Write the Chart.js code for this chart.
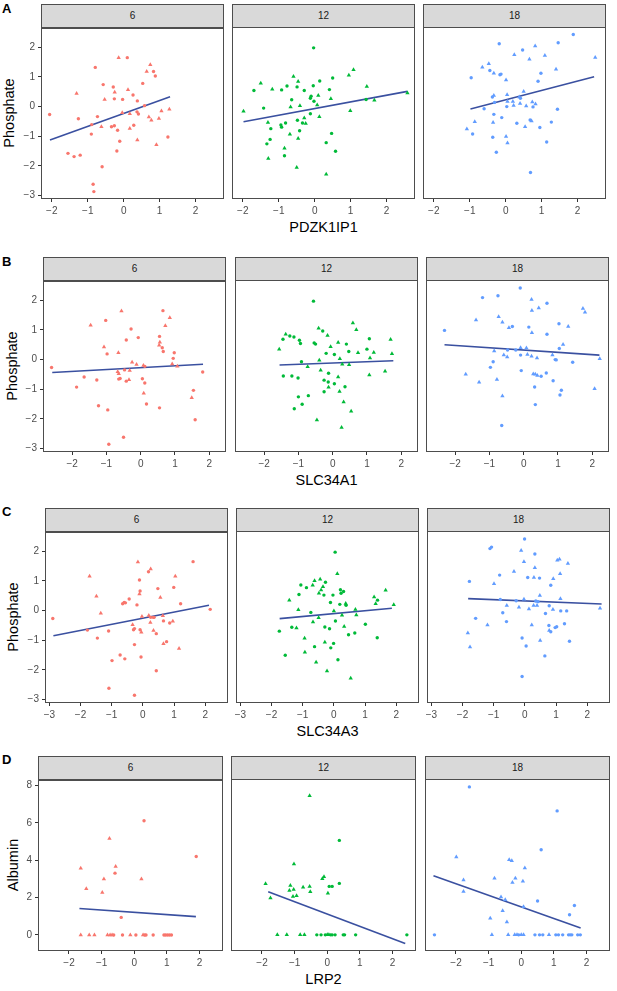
<!DOCTYPE html>
<html lang="en">
<head>
<meta charset="UTF-8">
<title>Phosphate and albumin against gene expression</title>
<script src="https://cdn.jsdelivr.net/npm/chart.js"></script>
<style>
  body { margin: 0; background: #fff; font-family: "Liberation Sans", Arial, sans-serif; }
  #page { position: relative; width: 617px; height: 991px; overflow: hidden; }
  .strip { position: absolute; box-sizing: border-box; background: #d9d9d9; border: 1px solid #4d4d4d;
           font-size: 10px; color: #1a1a1a; text-align: center; }
  .tag { position: absolute; font-weight: bold; font-size: 13px; line-height: 1; }
  .xtitle { position: absolute; font-size: 14.5px; line-height: 1; transform: translate(-50%, -50%); white-space: nowrap; }
  .ytitle { position: absolute; font-size: 14.5px; line-height: 1; transform: translate(-50%, -50%) rotate(-90deg); white-space: nowrap; }
  canvas { position: absolute; }
</style>
</head>
<body>
<div id="page"></div>
<script>
// facets and labels
const TIMEPOINTS = ['6', '12', '18'];
const GENES = ['PDZK1IP1', 'SLC34A1', 'SLC34A3', 'LRP2'];
const Y_TITLES = ['Phosphate', 'Phosphate', 'Phosphate', 'Albumin'];
const TAGS = ['A', 'B', 'C', 'D'];
const COLOURS = ['#F8766D', '#00BA38', '#619CFF'];
const FIT_COLOUR = '#3a50a0';

// tick labels and axis limits
const Y_TICKS_PHOS = [-3, -2, -1, 0, 1, 2];
const Y_TICKS_ALB = [0, 2, 4, 6, 8];
const Y_RANGE_PHOS = [-3.12, 2.65];
const Y_RANGE_ALB = [-0.86, 8.3];
const X_TICKS_A = [-2, -1, 0, 1, 2];
const X_TICKS_B = [-2, -1, 0, 1, 2];
const X_TICKS_C = [-3, -2, -1, 0, 1, 2];
const X_TICKS_D = [-2, -1, 0, 1, 2];
const X_RANGE_A = [-2.30, 2.79];
const X_RANGE_B = [-2.85, 2.49];
const X_RANGE_C = [-3.14, 2.73];
const X_RANGE_D = [-2.95, 2.72];

// A: PDZK1IP1 vs phosphate
const A6_circles = [[-2.06,-0.27],[-1.26,-0.41],[-1.55,-1.58],[-1.38,-1.69],[-1.21,-1.64],[-0.79,1.32],[-0.73,-0.34],[-0.89,-0.61],[-0.90,-0.93],[-0.85,-2.62],[-0.83,-2.87],[-0.60,-2.03],[-0.57,0.74],[-0.29,0.66],[-0.26,0.26],[-0.34,-0.68],[-0.26,-0.65],[-0.17,-0.80],[0.10,1.65],[-0.03,0.24],[-0.11,-1.17],[-0.19,-1.50],[0.26,0.39],[0.28,-0.63],[0.38,0.19],[0.37,-0.18],[0.41,-0.25],[0.53,0.78],[0.58,0.03],[0.83,1.18],[0.88,1.03],[1.23,-1.03]];
const A6_triangles = [[-1.31,0.44],[-0.62,-0.68],[-0.53,0.24],[-0.25,0.48],[-0.14,1.65],[-0.04,-0.21],[0.12,0.57],[0.17,-0.24],[0.17,-0.74],[0.38,-1.13],[0.64,1.18],[0.74,1.41],[0.70,-0.35],[0.77,-0.46],[0.91,-1.29],[0.98,-0.40],[1.05,-0.15],[1.27,-0.09]];
const A6_fit = [[-2.05,-1.13],[1.29,0.33]];
const A12_circles = [[-1.69,0.52],[-1.42,-0.07],[-1.22,-0.76],[-1.24,-1.12],[-1.33,-1.27],[-0.92,0.54],[-0.77,0.67],[-0.94,-0.64],[-0.92,-0.71],[-0.81,-0.57],[-0.84,-1.67],[-0.64,0.21],[-0.49,0.64],[-0.48,-0.48],[-0.42,-0.83],[-0.29,0.52],[-0.34,-0.57],[-0.12,0.26],[-0.10,0.33],[-0.12,-0.26],[-0.03,1.95],[-0.04,0.68],[-0.02,0.16],[0.14,0.84],[0.32,-1.23],[0.50,0.94],[0.41,0.55],[0.47,-0.92],[0.58,-1.52],[1.43,0.22]];
const A12_triangles = [[-1.98,-0.18],[-1.50,0.76],[-1.30,-0.55],[-1.29,-1.76],[-1.18,0.56],[-0.84,-1.42],[-0.69,-0.95],[-0.67,-0.03],[-0.59,0.99],[-0.46,0.82],[-0.46,-1.09],[-0.50,-2.06],[-0.41,0.01],[-0.29,-0.40],[-0.25,-0.59],[0.07,0.03],[0.10,0.35],[0.13,-0.36],[0.32,-2.29],[0.45,0.24],[0.95,1.03],[1.08,1.22],[0.99,-0.16],[1.45,0.65],[1.66,0.19],[2.58,0.44]];
const A12_fit = [[-1.98,-0.53],[2.58,0.49]];
const A18_circles = [[-0.96,0.95],[-0.92,-0.94],[-0.60,-0.09],[-0.44,1.19],[-0.18,2.09],[-0.16,1.05],[-0.13,1.07],[-0.37,0.30],[-0.31,0.12],[-0.33,-0.28],[-0.36,-1.05],[-0.11,-0.39],[-0.26,-1.55],[0.03,-0.02],[0.31,-0.58],[0.41,0.26],[0.47,1.88],[0.68,-0.47],[0.69,-2.23],[0.76,-0.03],[0.90,0.83],[0.95,-0.72],[0.98,1.10],[1.14,-1.21],[1.27,-0.54],[1.44,-0.11],[1.46,2.12],[1.88,2.40]];
const A18_triangles = [[-1.08,-0.77],[-0.86,-0.53],[-0.65,1.30],[-0.47,1.42],[-0.33,1.10],[0.01,0.87],[-0.33,0.35],[-0.35,-0.55],[0.01,-1.02],[0.05,-1.24],[0.04,0.38],[0.05,0.15],[0.20,0.15],[0.22,0.02],[0.38,0.30],[0.40,0.08],[0.24,1.72],[0.50,0.49],[0.57,0.00],[0.54,-0.70],[0.66,1.57],[0.72,-0.50],[0.74,0.13],[0.82,2.01],[0.83,0.07],[1.09,1.69],[1.40,1.23],[2.49,1.63]];
const A18_fit = [[-0.98,-0.10],[2.46,0.98]];

// B: SLC34A1 vs phosphate
const B6_circles = [[-2.60,-0.27],[-1.87,-0.93],[-1.65,-0.59],[-1.28,-0.69],[-1.23,-1.56],[-1.02,1.32],[-0.98,0.19],[-0.96,-1.70],[-0.93,-2.86],[-0.64,-0.66],[-0.60,-0.64],[-0.50,-2.62],[-0.47,-0.35],[-0.42,0.66],[-0.42,-0.73],[-0.28,1.03],[-0.07,0.74],[0.05,-0.65],[0.12,-0.23],[0.12,-0.79],[0.17,-1.50],[0.55,0.78],[0.55,-1.63],[0.63,0.40],[0.66,0.27],[0.65,1.65],[0.95,0.04],[0.98,0.23],[1.54,-1.04],[1.59,-2.03],[1.81,-0.42]];
const B6_triangles = [[-1.46,1.16],[-1.07,0.42],[-0.65,0.23],[-0.67,-0.41],[-0.64,-0.48],[-0.56,1.64],[-0.34,-0.68],[-0.32,-0.37],[-0.25,-0.09],[-0.12,-0.17],[0.08,-0.20],[0.09,-1.14],[0.54,0.48],[0.56,0.58],[0.72,1.14],[0.85,1.41],[0.92,-0.15],[1.07,-0.23],[1.49,-1.29]];
const B6_fit = [[-2.58,-0.44],[1.82,-0.16]];
const B12_circles = [[-1.45,0.66],[-1.44,-0.57],[-1.25,0.77],[-1.13,0.74],[-1.19,-0.57],[-1.01,-0.64],[-1.00,-1.27],[-1.12,-1.67],[-0.89,-1.52],[-0.97,0.63],[-0.94,0.52],[-0.91,-0.09],[-0.71,-1.23],[-0.56,1.94],[-0.54,0.54],[-0.50,0.50],[-0.29,0.94],[-0.25,-0.71],[-0.25,-1.10],[-0.19,0.19],[-0.13,-0.77],[-0.12,-0.48],[0.05,0.15],[0.05,-0.83],[0.36,-0.93],[0.40,0.50],[0.47,0.25],[1.00,0.33],[1.07,0.68]];
const B12_triangles = [[-1.56,0.33],[-1.37,0.83],[-0.73,-0.26],[-0.46,-2.05],[-0.41,1.03],[-0.39,-0.04],[-0.35,-0.38],[-0.15,0.79],[-0.12,-0.95],[-0.06,0.41],[0.16,0.55],[0.16,-0.60],[0.21,0.01],[0.20,-1.09],[0.26,-2.30],[0.28,-0.18],[0.32,-1.44],[0.48,-0.19],[0.54,-1.75],[0.59,1.21],[0.69,0.98],[0.74,0.21],[1.09,0.03],[1.07,-0.54],[1.20,0.22],[1.53,-0.41],[1.69,0.65],[1.73,0.18]];
const B12_fit = [[-1.55,-0.20],[1.77,-0.06]];
const B18_circles = [[-2.31,0.96],[-1.20,2.06],[-0.97,-0.28],[-0.89,-0.09],[-0.75,2.12],[-0.64,-2.23],[-0.47,0.30],[-0.33,1.09],[-0.23,0.30],[-0.10,2.38],[-0.09,0.13],[-0.07,-0.39],[0.15,1.07],[0.32,-0.94],[0.34,-1.53],[0.51,-0.58],[0.66,-0.47],[0.68,0.83],[0.68,1.87],[0.86,-0.73],[0.92,-0.02],[0.95,-0.03],[1.03,1.18],[1.04,0.35],[1.06,-1.21],[1.10,-1.05],[1.43,-0.11]];
const B18_triangles = [[-1.69,-0.51],[-1.30,-0.78],[-1.39,1.31],[-0.86,0.27],[-0.78,-0.69],[-0.73,1.42],[-0.62,-1.24],[-0.62,1.23],[-0.58,0.13],[-0.48,0.07],[-0.43,1.05],[-0.09,0.38],[0.08,0.37],[0.11,0.15],[0.23,2.00],[0.24,1.63],[0.24,0.88],[0.23,0.09],[0.28,-0.50],[0.34,-0.51],[0.39,0.03],[0.40,-0.55],[0.44,1.71],[0.84,0.13],[1.15,0.49],[1.30,1.09],[1.73,1.69],[1.79,1.57],[2.07,-1.00],[2.22,0.01]];
const B18_fit = [[-2.31,0.48],[2.21,0.13]];

// C: SLC34A3 vs phosphate
const C6_circles = [[-2.89,-0.27],[-1.78,-0.66],[-1.46,-0.93],[-1.10,-0.69],[-1.09,-2.62],[-0.99,-1.69],[-0.73,-1.50],[-0.65,0.23],[-0.60,0.27],[-0.56,0.26],[-0.58,-1.63],[-0.44,0.39],[-0.30,-0.65],[-0.27,-0.61],[-0.27,-1.15],[-0.27,-2.86],[-0.19,0.19],[-0.11,1.03],[-0.09,0.66],[-0.09,-0.65],[-0.06,-1.57],[0.18,1.31],[0.25,-0.23],[0.33,-0.23],[0.36,-0.23],[0.43,-0.78],[0.43,-2.03],[0.48,0.74],[0.66,-0.35],[0.76,-1.05],[0.86,-0.42],[0.99,0.78],[1.21,0.23],[1.61,1.65],[2.16,0.04]];
const C6_triangles = [[-1.71,1.16],[-1.49,0.48],[-1.35,-0.09],[-0.33,-0.48],[-0.16,1.64],[-0.11,0.56],[-0.05,-0.73],[-0.03,-0.20],[0.25,1.40],[0.19,-0.17],[0.24,-0.40],[0.34,-0.67],[0.56,0.44],[0.64,-0.18],[0.66,-1.12],[0.96,-0.36],[1.04,1.16],[1.16,-1.28]];
const C6_fit = [[-2.87,-0.85],[2.12,0.18]];
const C12_circles = [[-1.75,-0.71],[-1.56,-1.52],[-1.35,-0.58],[-1.12,0.52],[-1.06,0.84],[-0.88,0.75],[-0.74,-0.08],[-0.62,-1.23],[-0.32,0.50],[-0.27,0.93],[-0.29,-0.57],[-0.14,-0.63],[-0.11,0.25],[-0.10,-1.27],[-0.03,0.50],[-0.01,-1.12],[0.04,1.94],[0.05,-0.37],[0.13,-1.67],[0.19,0.19],[0.21,0.68],[0.23,0.56],[0.31,0.62],[0.39,0.16],[0.47,-0.83],[0.67,-0.77],[1.01,-0.48],[1.40,0.33],[1.39,-0.93]];
const C12_triangles = [[-1.43,0.33],[-1.20,-0.60],[-1.14,0.01],[-0.94,-0.95],[-0.93,-1.42],[-0.68,0.83],[-0.67,-0.40],[-0.62,0.98],[-0.57,-1.75],[-0.49,-0.26],[-0.48,0.56],[-0.44,1.03],[-0.41,0.67],[-0.35,0.78],[-0.29,-1.08],[-0.22,-2.05],[0.00,-0.03],[0.11,1.22],[0.26,-0.18],[0.33,-0.55],[0.38,0.22],[0.54,-2.29],[0.69,0.02],[0.72,-0.17],[1.29,0.44],[1.34,0.21],[1.66,0.66],[1.92,0.18]];
const C12_fit = [[-1.74,-0.29],[1.86,0.06]];
const C18_circles = [[-1.78,0.96],[-1.58,-0.28],[-1.12,2.06],[-1.07,2.11],[-0.81,1.17],[-0.79,0.35],[-0.71,-0.09],[-0.59,-0.39],[-0.28,0.31],[-0.09,-0.94],[-0.09,-2.23],[-0.01,2.38],[0.04,-1.21],[0.09,1.09],[0.32,1.88],[0.35,0.30],[0.42,0.28],[0.47,1.07],[0.64,-1.54],[0.66,-0.12],[0.78,0.14],[0.77,-0.52],[0.83,-0.73],[0.83,0.83],[0.97,-0.59],[1.02,-0.56],[1.15,-0.03],[1.27,-0.46],[1.34,-0.03],[1.43,-1.05]];
const C18_triangles = [[-1.83,-0.77],[-1.76,-1.24],[-1.20,-0.50],[-0.99,0.88],[-0.58,0.15],[-0.35,1.29],[-0.19,0.09],[-0.12,2.00],[-0.03,1.62],[-0.03,0.36],[0.13,0.03],[0.22,-0.50],[0.28,0.15],[0.29,1.09],[0.32,1.42],[0.39,0.15],[0.48,0.49],[0.49,-1.02],[0.78,-0.69],[0.90,0.02],[0.91,1.05],[1.04,1.67],[1.11,1.70],[1.13,1.22],[1.14,0.38],[1.38,1.56],[2.41,0.06]];
const C18_fit = [[-1.82,0.38],[2.46,0.20]];

// D: LRP2 vs albumin
const D6_circles = [[-0.63,0],[-0.36,0],[0.05,0],[0.32,0],[0.36,0],[0.58,0],[0.91,0],[0.96,0],[1.02,0],[1.08,0],[1.14,0],[-0.59,3.31],[-0.40,0.94],[0.30,6.12],[1.90,4.20]];
const D6_triangles = [[-1.64,3.57],[-1.47,2.47],[-1.64,0],[-1.38,0],[-1.22,0],[-0.98,2.28],[-0.93,3.00],[-0.82,0],[-0.76,5.16],[-0.74,0],[-0.68,0],[-0.57,3.66],[-0.12,0],[0.22,3.00],[0.27,0]];
const D6_fit = [[-1.68,1.42],[1.89,0.98]];
const D12_circles = [[-0.32,0],[-0.19,0],[-0.06,0],[0.10,0],[0.15,0],[0.24,0],[0.06,2.58],[0.15,2.58],[0.37,5.03],[0.37,2.74],[0.49,0],[0.53,0],[0.87,0],[2.44,0]];
const D12_triangles = [[-1.89,2.72],[-1.74,1.96],[-1.53,0],[-1.24,0],[-1.16,2.36],[-1.13,2.63],[-1.02,3.77],[-1.03,2.42],[-1.05,2.04],[-0.94,2.08],[-0.83,0],[-0.70,0],[-0.74,2.54],[-0.54,7.41],[-0.54,2.58],[-0.52,2.29],[-0.15,2.99],[-0.10,3.09],[0.00,0],[0.05,0],[0.02,2.22]];
const D12_fit = [[-1.81,2.29],[2.39,-0.46]];
const D18_circles = [[-2.66,0],[-1.59,7.88],[-0.08,0],[0.42,0],[0.50,1.80],[0.56,0],[0.61,4.53],[0.66,0],[1.06,0],[1.10,6.60],[1.14,0],[1.27,0],[1.45,0],[1.50,0],[1.55,0],[1.48,1.07],[1.63,1.56],[1.73,0],[1.81,0]];
const D18_triangles = [[-1.99,4.14],[-1.77,2.92],[-1.77,2.31],[-0.95,0.89],[-0.90,0],[-0.82,3.02],[-0.62,2.01],[-0.57,1.28],[-0.49,1.87],[-0.44,0.68],[-0.40,0],[-0.37,4.00],[-0.29,3.95],[-0.27,2.79],[-0.18,3.02],[-0.20,0],[-0.13,0],[0.00,0],[0.07,0],[0.05,2.86],[0.11,3.56],[0.07,1.49],[0.85,0]];
const D18_fit = [[-2.69,3.15],[1.82,0.36]];

// page layout for each row of facets
const rows = [
  { xTicks: X_TICKS_A, xRange: X_RANGE_A, yTicks: Y_TICKS_PHOS, yRange: Y_RANGE_PHOS,
    circles: [A6_circles, A12_circles, A18_circles], triangles: [A6_triangles, A12_triangles, A18_triangles], fits: [A6_fit, A12_fit, A18_fit],
    stripTop: 4, plotTop: 27, plotBottom: 199, lefts: [41, 232, 423], width: 183, yTitleX: 9, tagTop: 2 },
  { xTicks: X_TICKS_B, xRange: X_RANGE_B, yTicks: Y_TICKS_PHOS, yRange: Y_RANGE_PHOS,
    circles: [B6_circles, B12_circles, B18_circles], triangles: [B6_triangles, B12_triangles, B18_triangles], fits: [B6_fit, B12_fit, B18_fit],
    stripTop: 257, plotTop: 280, plotBottom: 452, lefts: [43, 235, 426], width: 183, yTitleX: 11.5, tagTop: 254.5 },
  { xTicks: X_TICKS_C, xRange: X_RANGE_C, yTicks: Y_TICKS_PHOS, yRange: Y_RANGE_PHOS,
    circles: [C6_circles, C12_circles, C18_circles], triangles: [C6_triangles, C12_triangles, C18_triangles], fits: [C6_fit, C12_fit, C18_fit],
    stripTop: 508, plotTop: 531, plotBottom: 703, lefts: [45, 236, 427], width: 183, yTitleX: 12.5, tagTop: 504.5 },
  { xTicks: X_TICKS_D, xRange: X_RANGE_D, yTicks: Y_TICKS_ALB, yRange: Y_RANGE_ALB,
    circles: [D6_circles, D12_circles, D18_circles], triangles: [D6_triangles, D12_triangles, D18_triangles], fits: [D6_fit, D12_fit, D18_fit],
    stripTop: 756, plotTop: 779, plotBottom: 951, lefts: [38, 231, 425], width: 185, yTitleX: 12.5, tagTop: 753 }
];

const AXIS_W = 40, AXIS_H = 22, PAD_R = 6, PAD_T = 8;
const FONT = '"Liberation Sans", Arial, sans-serif';
const page = document.getElementById('page');

function toPoints(pairs) {
  return pairs.map(p => ({ x: p[0], y: p[1] }));
}
function tickText(v) {
  return v < 0 ? '\u2212' + Math.abs(v) : String(v);
}
function addDiv(cls, text, css) {
  const d = document.createElement('div');
  d.className = cls;
  d.textContent = text;
  Object.assign(d.style, css);
  page.appendChild(d);
  return d;
}

// panel frame drawn over the plot area, like ggplot's panel.border
const panelBorder = {
  id: 'panelBorder',
  afterDraw(chart) {
    const a = chart.chartArea, ctx = chart.ctx;
    ctx.save();
    ctx.strokeStyle = '#4d4d4d';
    ctx.lineWidth = 1;
    ctx.strokeRect(Math.round(a.left) + 0.5, Math.round(a.top) + 0.5, Math.round(a.width) - 1, Math.round(a.height) - 1);
    ctx.restore();
  }
};

function addPanel(row, col) {
  const left = row.lefts[col];
  const plotH = row.plotBottom - row.plotTop;

  addDiv('strip', TIMEPOINTS[col], {
    left: left + 'px', top: row.stripTop + 'px', width: row.width + 'px',
    height: (row.plotTop - row.stripTop + 1) + 'px', lineHeight: (row.plotTop - row.stripTop - 1) + 'px'
  });

  const canvas = document.createElement('canvas');
  canvas.width = row.width + AXIS_W + PAD_R;
  canvas.height = plotH + AXIS_H + PAD_T;
  canvas.style.left = (left - AXIS_W) + 'px';
  canvas.style.top = (row.plotTop - PAD_T) + 'px';
  page.appendChild(canvas);

  const colour = COLOURS[col];
  new Chart(canvas, {
    type: 'scatter',
    data: {
      datasets: [
        { data: toPoints(row.circles[col]), pointStyle: 'circle', pointRadius: 1.7,
          backgroundColor: colour, borderWidth: 0 },
        { data: toPoints(row.triangles[col]), pointStyle: 'triangle', pointRadius: 2.5,
          backgroundColor: colour, borderWidth: 0 },
        { type: 'line', data: toPoints(row.fits[col]), borderColor: FIT_COLOUR, borderWidth: 1.6,
          pointRadius: 0, fill: false }
      ]
    },
    options: {
      responsive: false,
      animation: false,
      events: [],
      // the y axis keeps its 40px in every panel; only the first column shows it
      layout: { padding: { left: 0, right: PAD_R, top: PAD_T, bottom: 0 } },
      plugins: { legend: { display: false }, tooltip: { enabled: false } },
      scales: {
        x: {
          type: 'linear', min: row.xRange[0], max: row.xRange[1],
          afterBuildTicks: s => { s.ticks = row.xTicks.map(v => ({ value: v })); },
          afterFit: s => { s.height = AXIS_H; },
          grid: { drawOnChartArea: false, tickLength: 3, color: '#333' },
          border: { display: false },
          ticks: { color: '#4d4d4d', font: { size: 10, family: FONT }, padding: 3,
                   maxRotation: 0, autoSkip: false, callback: v => tickText(v) }
        },
        y: {
          display: col === 0,
          type: 'linear', min: row.yRange[0], max: row.yRange[1],
          afterBuildTicks: s => { s.ticks = row.yTicks.map(v => ({ value: v })); },
          afterFit: s => { s.width = AXIS_W; },
          grid: { drawOnChartArea: false, tickLength: 3, color: '#333' },
          border: { display: false },
          ticks: { color: '#4d4d4d', font: { size: 10, family: FONT }, padding: 3,
                   autoSkip: false, callback: v => tickText(v) }
        }
      }
    },
    plugins: [panelBorder]
  });
}

rows.forEach((row, r) => {
  addDiv('tag', TAGS[r], { left: '2px', top: row.tagTop + 'px' });
  addDiv('ytitle', Y_TITLES[r], { left: row.yTitleX + 'px', top: ((row.plotTop + row.plotBottom) / 2) + 'px' });
  addDiv('xtitle', GENES[r], { left: (row.lefts[1] + row.width / 2) + 'px', top: (row.plotBottom + 28) + 'px' });
  for (let c = 0; c < TIMEPOINTS.length; c++) addPanel(row, c);
});
</script>
</body>
</html>
